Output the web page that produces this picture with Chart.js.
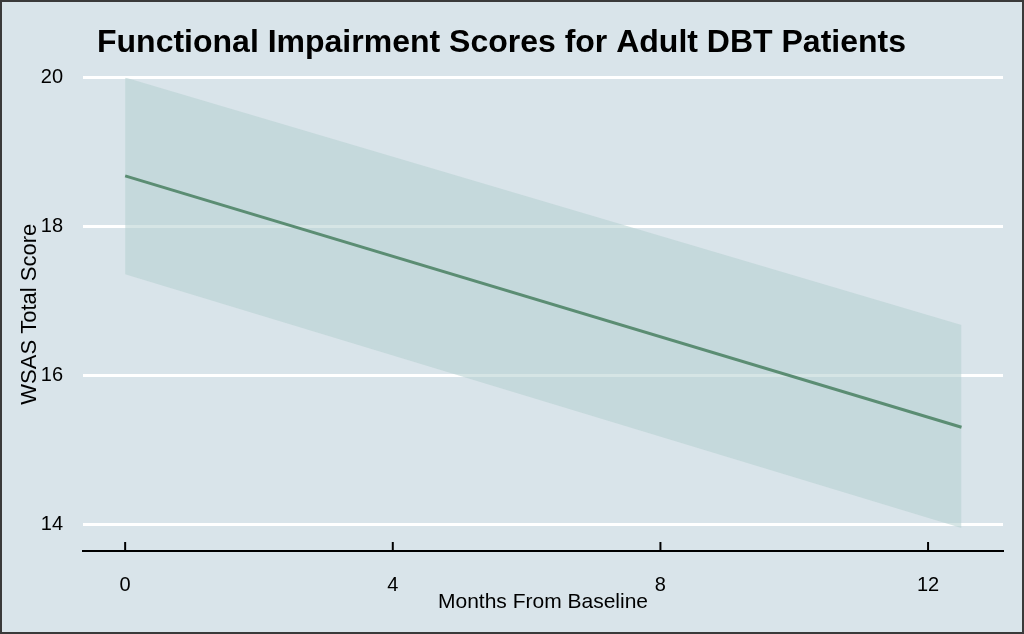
<!DOCTYPE html>
<html>
<head>
<meta charset="utf-8">
<script src="https://cdn.jsdelivr.net/npm/chart.js@4/dist/chart.umd.min.js"></script>
<style>
    html, body { margin: 0; padding: 0; background: #d9e4ea; }
    #wrap { width: 1024px; height: 634px; }
</style>
</head>
<body>
<div id="wrap"><canvas id="wsasChart"></canvas></div>
<script>
// Values
const months = [0, 12.5];
const fittedScore = [18.68, 15.31];
const upperCI = [20.0, 16.68];
const lowerCI = [17.36, 13.96];
const xTicks = [0, 4, 8, 12];
const yTicks = [14, 16, 18, 20];

const toPoints = (ys) => months.map((m, i) => ({ x: m, y: ys[i] }));

// Background + outer frame
const framePlugin = {
    id: 'frame',
    beforeDraw(chart) {
        const c = chart.ctx;
        c.save();
        c.fillStyle = '#d9e4ea';
        c.fillRect(0, 0, chart.width, chart.height);
        c.strokeStyle = '#3a3a3a';
        c.lineWidth = 2;
        c.strokeRect(1, 1, chart.width - 2, chart.height - 2);
        c.restore();
    }
};

// Stata-style ticks pointing up from the x axis line
const innerTicks = {
    id: 'innerTicks',
    afterDraw(chart) {
        const x = chart.scales.x;
        const c = chart.ctx;
        c.save();
        c.strokeStyle = '#000000';
        c.lineWidth = 2;
        xTicks.forEach(v => {
            const px = x.getPixelForValue(v);
            c.beginPath();
            c.moveTo(px, chart.chartArea.bottom);
            c.lineTo(px, chart.chartArea.bottom - 9);
            c.stroke();
        });
        c.restore();
    }
};

new Chart(document.getElementById('wsasChart'), {
    type: 'line',
    data: {
        datasets: [
            {
                label: 'Upper',
                data: toPoints(upperCI),
                borderWidth: 0,
                pointRadius: 0,
                fill: '+1',
                backgroundColor: 'rgba(180, 208, 208, 0.55)',
                order: 2
            },
            {
                label: 'Lower',
                data: toPoints(lowerCI),
                borderWidth: 0,
                pointRadius: 0,
                fill: false,
                order: 3
            },
            {
                label: 'Fitted',
                data: toPoints(fittedScore),
                borderColor: '#5b8d73',
                borderWidth: 3,
                pointRadius: 0,
                fill: false,
                order: 0   // keep the line above the band
            }
        ]
    },
    options: {
        responsive: true,
        maintainAspectRatio: false,
        animation: false,
        layout: { padding: { left: 0, right: 21, top: 0, bottom: 0 } },
        plugins: {
            legend: { display: false },
            tooltip: { enabled: false },
            title: {
                display: true,
                text: 'Functional Impairment Scores for Adult DBT Patients',
                color: '#000000',
                font: { family: "'Liberation Sans', Arial", size: 32, weight: 'bold' },
                padding: { top: 24, bottom: 15 }
            }
        },
        scales: {
            x: {
                type: 'linear',
                min: -0.63,
                max: 13.12,
                afterBuildTicks(scale) { scale.ticks = xTicks.map(v => ({ value: v })); },
                afterFit(scale) { scale.height = 83; },
                grid: { display: false, drawTicks: false },
                border: { display: true, color: '#000000', width: 2 },
                ticks: {
                    color: '#000000',
                    padding: 22,
                    maxRotation: 0,
                    font: { family: "'Liberation Sans', Arial", size: 20 }
                },
                title: {
                    display: true,
                    text: 'Months From Baseline',
                    color: '#000000',
                    font: { family: "'Liberation Sans', Arial", size: 21 },
                    padding: { top: 0, bottom: 19 }
                }
            },
            y: {
                type: 'linear',
                min: 13.65,
                max: 20,
                afterBuildTicks(scale) { scale.ticks = yTicks.map(v => ({ value: v })); },
                afterFit(scale) { scale.width = 83; },
                grid: { color: '#ffffff', lineWidth: 3, drawTicks: false },
                border: { display: false },
                ticks: {
                    color: '#000000',
                    padding: 20,
                    font: { family: "'Liberation Sans', Arial", size: 20 }
                },
                title: {
                    display: true,
                    text: 'WSAS Total Score',
                    color: '#000000',
                    font: { family: "'Liberation Sans', Arial", size: 22 },
                    padding: { top: 17, bottom: 0 }
                }
            }
        }
    },
    plugins: [framePlugin, innerTicks]
});
</script>
</body>
</html>
